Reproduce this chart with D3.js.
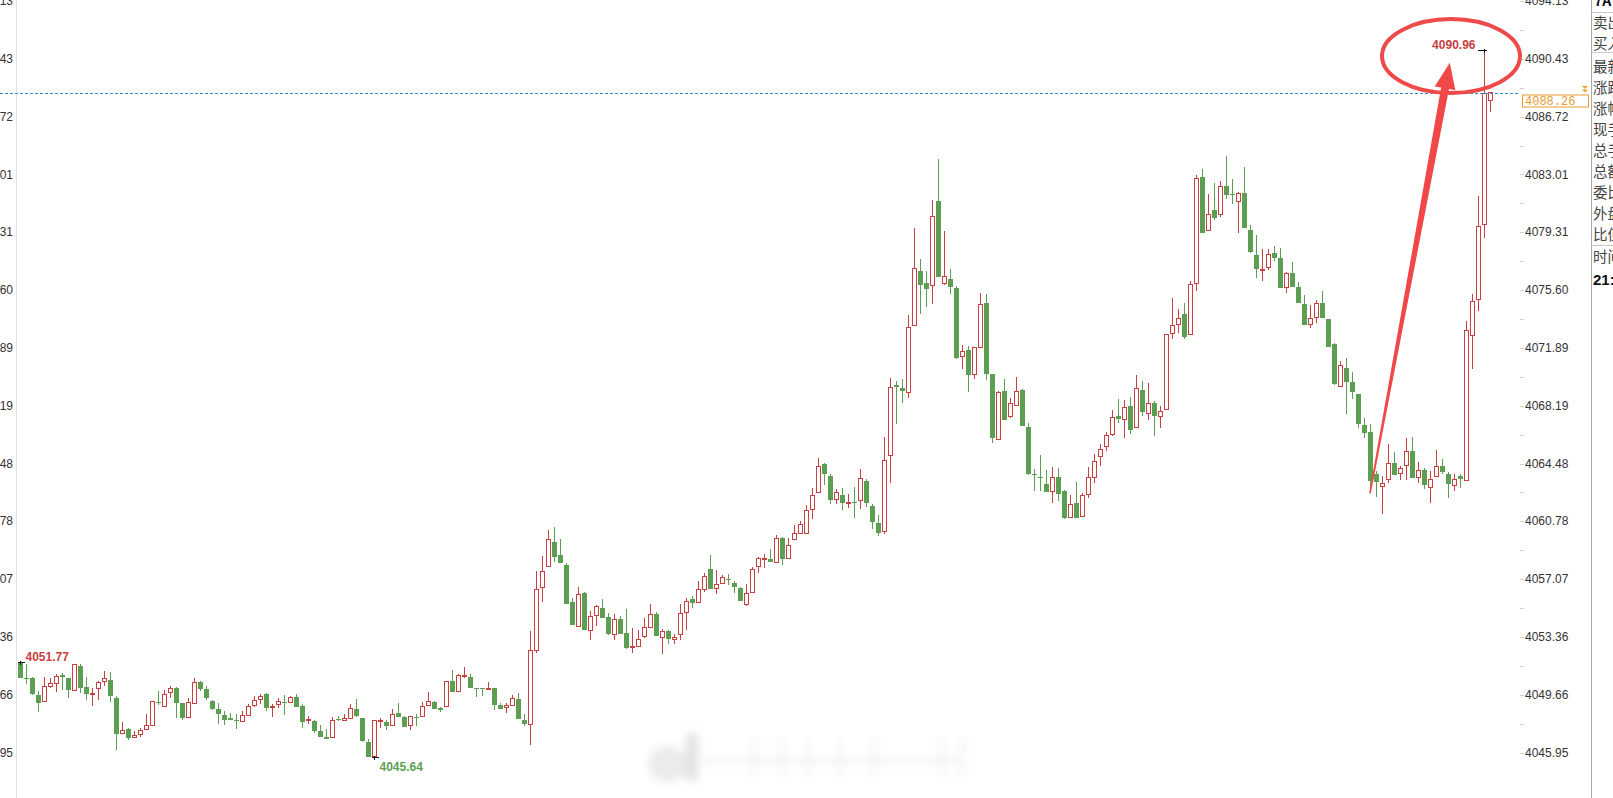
<!DOCTYPE html>
<meta charset="utf-8">
<script src="https://d3js.org/d3.v7.min.js"></script>
<style>
  body { margin: 0; background: #fff; overflow: hidden; }
</style>
<div id="chart"></div>
<script>

// one row per bar: [open, high, low, close]
var candles = [
  [4051.67,4051.77,4050.71,4050.76],[4050.73,4051.61,4050.37,4050.65],[4050.71,4050.80,4049.62,4049.69],[4049.64,4049.90,4048.58,4049.15],
  [4049.22,4050.80,4049.17,4050.20],[4050.20,4050.71,4050.07,4050.35],[4050.37,4051.01,4049.82,4050.80],[4050.93,4051.03,4049.94,4050.78],
  [4050.73,4050.73,4049.47,4049.94],[4049.90,4051.61,4049.90,4051.57],[4051.48,4051.65,4049.75,4050.11],[4050.13,4050.80,4049.34,4049.69],
  [4049.67,4050.07,4048.92,4049.71],[4050.07,4050.54,4049.30,4050.46],[4050.50,4051.18,4050.24,4050.71],[4050.63,4051.10,4049.17,4049.60],
  [4049.47,4049.58,4046.14,4047.12],[4047.19,4047.89,4047.19,4047.38],[4047.44,4047.55,4046.74,4046.87],[4046.93,4047.34,4046.87,4047.06],
  [4047.12,4047.55,4046.95,4047.38],[4047.46,4048.40,4047.46,4047.70],[4047.70,4049.26,4047.70,4049.22],[4049.22,4049.90,4049.00,4049.15],
  [4048.92,4049.94,4048.92,4049.69],[4049.82,4050.24,4049.47,4050.07],[4050.07,4050.16,4048.15,4049.15],[4049.13,4049.13,4048.04,4048.17],
  [4048.19,4049.47,4048.19,4049.13],[4049.11,4050.71,4049.11,4050.46],[4050.50,4050.54,4049.90,4050.01],[4050.03,4050.20,4049.34,4049.43],
  [4049.26,4049.34,4048.71,4048.77],[4048.73,4049.13,4047.81,4048.40],[4048.34,4048.62,4047.72,4048.02],[4048.19,4048.49,4048.02,4048.06],
  [4048.04,4048.40,4047.44,4048.02],[4047.94,4048.62,4047.94,4048.34],[4048.30,4049.05,4048.30,4048.92],[4049.00,4049.58,4048.88,4049.26],
  [4049.37,4049.69,4049.09,4049.56],[4049.69,4049.80,4048.62,4048.84],[4048.86,4049.05,4048.24,4048.92],[4049.01,4049.48,4048.79,4049.20],
  [4049.22,4049.65,4048.36,4049.18],[4049.18,4049.56,4049.18,4049.50],[4049.52,4049.73,4048.90,4048.90],[4048.94,4049.09,4047.51,4047.94],
  [4048.02,4048.32,4047.81,4048.07],[4047.98,4048.02,4047.23,4047.34],[4047.34,4047.72,4046.98,4046.98],[4046.93,4047.49,4046.85,4046.85],
  [4046.91,4048.24,4046.91,4047.98],[4048.09,4048.30,4047.98,4048.02],[4048.02,4048.45,4048.02,4048.13],[4048.15,4049.09,4048.15,4048.79],
  [4048.73,4049.39,4048.24,4048.28],[4048.15,4048.19,4046.66,4046.70],[4046.63,4046.81,4045.67,4045.67],[4045.72,4048.02,4045.64,4047.98],
  [4047.94,4048.15,4047.55,4048.00],[4047.94,4048.02,4047.43,4047.68],[4047.70,4048.73,4047.70,4048.41],[4048.47,4049.11,4048.26,4048.26],
  [4048.24,4048.30,4047.62,4047.62],[4047.68,4048.32,4047.43,4048.28],[4048.24,4048.41,4047.66,4048.19],[4048.26,4049.18,4048.26,4048.92],
  [4048.96,4049.82,4048.96,4049.20],[4049.20,4049.26,4048.77,4048.77],[4048.79,4048.88,4048.58,4048.69],[4048.90,4050.48,4048.90,4050.48],
  [4050.54,4051.25,4049.86,4049.86],[4049.86,4050.97,4049.86,4050.91],[4050.82,4051.44,4050.76,4050.91],[4050.78,4050.97,4050.12,4050.12],
  [4050.12,4050.12,4049.54,4050.05],[4050.12,4050.12,4049.58,4050.05],[4050.05,4050.48,4050.01,4050.09],[4050.09,4050.09,4048.66,4049.03],
  [4049.00,4049.15,4048.77,4048.77],[4048.85,4049.11,4048.51,4048.94],[4048.98,4049.65,4048.98,4049.43],[4049.37,4049.75,4048.09,4048.09],
  [4048.04,4048.41,4047.66,4047.79],[4047.77,4053.75,4046.44,4052.51],[4052.47,4057.59,4052.36,4056.42],[4056.55,4058.56,4055.61,4057.53],
  [4057.87,4060.22,4057.87,4059.62],[4059.45,4060.41,4058.17,4058.51],[4058.62,4059.67,4058.09,4058.09],[4057.98,4058.09,4055.46,4055.50],
  [4055.61,4055.88,4054.11,4054.11],[4054.05,4056.59,4054.05,4056.10],[4056.21,4056.25,4053.79,4053.79],[4053.79,4055.03,4053.15,4054.65],
  [4054.77,4055.39,4054.07,4055.31],[4055.20,4055.82,4054.60,4054.60],[4054.65,4054.88,4053.47,4053.58],[4053.53,4054.82,4053.15,4054.50],
  [4054.50,4054.71,4053.58,4053.58],[4053.59,4055.13,4052.57,4052.63],[4052.71,4053.91,4052.35,4052.78],[4052.78,4053.78,4052.78,4053.21],
  [4053.40,4054.55,4053.31,4053.99],[4053.99,4055.45,4053.99,4054.83],[4054.83,4054.96,4053.40,4053.40],[4053.33,4053.89,4052.24,4053.72],
  [4053.72,4053.78,4052.93,4053.21],[4053.21,4053.57,4052.89,4053.33],[4053.53,4055.45,4053.14,4054.87],[4054.96,4055.88,4053.80,4055.66],
  [4055.77,4055.96,4055.24,4055.51],[4055.58,4056.95,4055.58,4056.41],[4056.41,4057.44,4056.26,4057.24],[4057.71,4058.59,4056.41,4056.41],
  [4056.48,4057.63,4056.09,4056.73],[4056.82,4057.33,4056.77,4057.20],[4057.10,4057.42,4056.69,4057.03],[4056.84,4056.95,4056.20,4056.56],
  [4056.50,4056.56,4055.64,4055.64],[4055.43,4056.73,4055.34,4056.15],[4056.22,4057.84,4056.22,4057.71],[4057.89,4058.48,4057.48,4058.42],
  [4058.33,4058.68,4057.80,4058.40],[4058.36,4059.02,4058.14,4058.19],[4058.14,4059.89,4058.14,4059.68],[4059.68,4059.77,4057.95,4058.33],
  [4058.40,4059.72,4058.40,4059.23],[4059.62,4060.54,4059.62,4060.00],[4059.98,4060.79,4059.94,4060.58],[4059.98,4061.82,4059.94,4061.48],
  [4061.54,4062.89,4060.94,4062.44],[4062.63,4064.81,4062.63,4064.32],[4064.42,4064.53,4063.08,4063.78],[4063.68,4063.78,4061.90,4062.12],
  [4062.18,4062.86,4061.86,4062.65],[4062.44,4062.89,4061.50,4061.92],[4061.97,4062.50,4061.65,4062.01],[4062.01,4062.97,4061.01,4061.92],
  [4062.12,4064.10,4061.54,4063.53],[4063.36,4063.46,4061.69,4061.97],[4061.75,4061.90,4060.30,4060.75],[4060.64,4061.16,4059.83,4060.04],
  [4060.15,4066.18,4059.94,4064.68],[4065.02,4069.94,4063.25,4069.34],[4069.49,4069.77,4066.99,4069.38],[4069.30,4069.87,4068.33,4069.15],
  [4069.06,4074.00,4068.70,4073.19],[4073.36,4079.55,4073.36,4076.99],[4076.82,4077.57,4074.08,4075.90],[4076.05,4076.82,4074.51,4075.69],
  [4075.90,4081.35,4074.72,4080.32],[4081.30,4083.98,4076.45,4076.45],[4076.01,4079.38,4075.90,4076.48],[4076.28,4076.92,4075.32,4075.81],
  [4075.75,4075.86,4071.15,4071.26],[4071.35,4072.05,4070.51,4071.63],[4071.73,4072.01,4069.06,4070.13],[4070.19,4071.90,4069.92,4071.90],
  [4071.95,4075.39,4071.95,4074.68],[4074.75,4075.32,4069.81,4070.24],[4070.20,4070.24,4065.82,4066.14],[4066.03,4069.13,4066.03,4069.06],
  [4069.11,4069.88,4067.25,4067.25],[4067.48,4068.66,4067.42,4068.34],[4068.19,4070.03,4068.14,4069.11],[4069.19,4069.23,4066.86,4066.86],
  [4066.82,4067.10,4063.74,4063.79],[4063.79,4064.11,4062.72,4063.72],[4063.61,4065.00,4062.72,4063.57],[4063.14,4064.04,4062.67,4062.67],
  [4062.67,4064.28,4061.97,4063.57],[4063.64,4064.21,4062.08,4062.50],[4062.72,4062.76,4060.90,4060.97],[4061.01,4062.46,4060.97,4061.86],
  [4061.93,4063.29,4061.01,4061.01],[4061.07,4062.57,4061.07,4062.44],[4062.50,4064.26,4062.29,4063.57],[4063.57,4065.11,4063.21,4064.60],
  [4064.94,4065.71,4064.32,4065.39],[4065.58,4066.50,4065.28,4066.29],[4066.35,4067.89,4066.24,4067.40],[4067.50,4068.59,4067.10,4067.31],
  [4067.29,4068.53,4066.09,4068.08],[4068.14,4068.74,4066.35,4066.65],[4066.78,4070.13,4066.78,4069.30],[4069.17,4069.77,4067.50,4067.76],
  [4067.70,4069.64,4067.29,4068.34],[4068.36,4068.49,4066.26,4067.55],[4067.50,4068.17,4066.78,4067.82],[4067.96,4072.80,4067.96,4072.77],
  [4072.83,4075.07,4072.49,4073.30],[4073.39,4074.37,4072.87,4073.79],[4074.05,4074.80,4072.49,4072.62],[4072.77,4076.19,4072.77,4075.97],
  [4076.04,4082.96,4075.55,4082.77],[4082.85,4083.34,4079.24,4079.28],[4079.43,4081.74,4079.43,4080.46],[4080.72,4082.45,4080.10,4080.20],
  [4080.44,4082.60,4080.31,4082.25],[4082.25,4084.20,4081.46,4081.68],[4081.74,4082.70,4081.10,4081.70],[4081.25,4081.91,4079.24,4081.81],
  [4081.81,4083.49,4079.56,4079.56],[4079.46,4079.78,4078.00,4078.05],[4077.83,4079.11,4076.40,4076.98],[4076.87,4078.22,4076.21,4076.93],
  [4077.04,4078.22,4076.89,4077.90],[4077.96,4078.43,4077.47,4077.68],[4077.64,4078.28,4075.76,4075.76],[4075.76,4076.76,4075.44,4076.68],
  [4076.68,4077.40,4075.82,4075.82],[4075.80,4076.10,4074.75,4074.75],[4074.69,4075.29,4073.39,4073.39],[4073.41,4074.63,4073.19,4073.79],
  [4073.86,4074.95,4073.52,4074.75],[4074.75,4075.52,4073.84,4073.84],[4073.73,4073.77,4071.93,4071.93],[4072.13,4072.19,4069.54,4069.60],
  [4069.45,4071.06,4069.45,4070.78],[4070.63,4071.23,4067.64,4069.73],[4069.71,4070.35,4068.60,4069.09],[4068.96,4068.96,4066.74,4067.04],
  [4066.95,4067.42,4066.14,4066.46],[4066.51,4067.00,4062.57,4063.36],[4063.79,4064.00,4062.34,4063.32],[4063.02,4063.68,4061.27,4063.21],
  [4063.47,4065.72,4063.26,4064.48],[4064.54,4065.22,4063.73,4063.73],[4063.86,4064.33,4063.41,4064.16],[4064.37,4066.14,4063.41,4065.27],
  [4065.29,4066.19,4063.58,4063.58],[4063.58,4064.60,4063.26,4064.01],[4064.05,4064.22,4062.83,4063.09],[4062.94,4064.01,4061.98,4063.47],
  [4063.62,4065.33,4063.62,4064.26],[4064.30,4064.80,4063.79,4063.94],[4063.79,4063.96,4062.25,4063.15],[4063.09,4063.83,4062.72,4063.47],
  [4063.68,4063.79,4062.94,4063.51],[4063.41,4073.62,4063.41,4073.02],[4072.66,4075.33,4070.52,4074.86],[4075.01,4081.63,4074.26,4079.65],
  [4079.82,4090.96,4078.92,4088.20],[4087.77,4088.30,4087.02,4088.26]
];

// price scale labels (same on both sides)
var yTicks = [4094.13, 4090.43, 4086.72, 4083.01, 4079.31, 4075.60, 4071.89,
              4068.19, 4064.48, 4060.78, 4057.07, 4053.36, 4049.66, 4045.95];

var lastPrice = 4088.26;

// extreme value marks: bar index, value, which side
var extremes = [
  {i: 0,   v: 4051.77, kind: "high", side: "right"},
  {i: 59,  v: 4045.64, kind: "low",  side: "right"},
  {i: 244, v: 4090.96, kind: "high", side: "left"}
];

// hand-drawn annotation, in data terms (bar index, price)
var arrowFrom = {i: 225, v: 4062.57};
var arrowTo   = {i: 238.3, v: 4090.17};
var circleAt  = {i: 238.5, v: 4090.60};

// quote panel on the right (cut off by the window)
var panelTitle = "7A";
var panelRows = ["卖出", "买入", "最新", "涨跌", "涨幅", "现手", "总手", "总额", "委比", "外盘", "比值", "时间"];
var panelTime = "21:";

var W = 1613, H = 798;
var red = "#c8403f", green = "#5c9f52";

var svg = d3.select("#chart").append("svg")
  .attr("width", W)
  .attr("height", H)
  .style("font-family", "'Liberation Sans', Arial, sans-serif");

var x = d3.scaleLinear().domain([0, candles.length - 1]).range([20, 1490]);
var y = d3.scaleLinear().domain([4045.95, 4094.13]).range([752.6, 1]);

// blurred watermark at the bottom
var defs = svg.append("defs");
defs.append("filter").attr("id", "blur")
  .attr("x", "-50%").attr("y", "-50%").attr("width", "200%").attr("height", "200%")
  .append("feGaussianBlur").attr("stdDeviation", 4);
var wm = svg.append("g").attr("filter", "url(#blur)");
wm.append("ellipse").attr("cx", 668).attr("cy", 764).attr("rx", 20).attr("ry", 18).attr("fill", "#ebebeb");
wm.append("rect").attr("x", 686).attr("y", 733).attr("width", 12).attr("height", 48).attr("fill", "#e2e2e2");
wm.append("rect").attr("x", 700).attr("y", 757).attr("width", 260).attr("height", 7).attr("fill", "#f5f5f5");
[752, 780, 806, 838, 872, 940, 960].forEach(function(px) {
  wm.append("rect").attr("x", px).attr("y", 738).attr("width", 4).attr("height", 42).attr("fill", "#f3f3f3");
});

// left axis (labels mostly outside the window)
svg.append("line")
  .attr("x1", 16.5).attr("x2", 16.5).attr("y1", 0).attr("y2", H)
  .attr("stroke", "#e3e3e3");
svg.selectAll(".ltick")
  .data(yTicks)
  .enter()
  .append("text")
  .attr("x", 13)
  .attr("y", function(d) { return y(d); })
  .attr("dy", "0.35em")
  .attr("text-anchor", "end")
  .attr("font-size", 12)
  .attr("fill", "#333")
  .text(function(d) { return d.toFixed(2); });

// right axis
var minor = yTicks.slice(1).map(function(d, k) { return (d + yTicks[k]) / 2; });
svg.selectAll(".rmaj")
  .data(yTicks.concat(minor))
  .enter()
  .append("line")
  .attr("x1", 1520).attr("x2", 1524)
  .attr("y1", function(d) { return Math.round(y(d)) + 0.5; })
  .attr("y2", function(d) { return Math.round(y(d)) + 0.5; })
  .attr("stroke", "#d0d0d0");
svg.selectAll(".rtick")
  .data(yTicks)
  .enter()
  .append("text")
  .attr("x", 1525)
  .attr("y", function(d) { return y(d); })
  .attr("dy", "0.35em")
  .attr("font-size", 12)
  .attr("fill", "#333")
  .text(function(d) { return d.toFixed(2); });

// candles
var bars = svg.append("g").attr("shape-rendering", "crispEdges");
var g = bars.selectAll("g")
  .data(candles)
  .enter()
  .append("g");

g.append("line")
  .attr("x1", function(d, i) { return x(i) + 0.5; })
  .attr("x2", function(d, i) { return x(i) + 0.5; })
  .attr("y1", function(d) { return y(d[1]); })
  .attr("y2", function(d) { return y(d[2]); })
  .attr("stroke", function(d) { return d[3] >= d[0] ? red : green; });

g.append("rect")
  .attr("x", function(d, i) { return x(i) - 2; })
  .attr("y", function(d) { return y(Math.max(d[0], d[3])); })
  .attr("width", function(d) { return d[3] >= d[0] ? 4 : 5; })
  .attr("height", function(d) { return Math.max(1, Math.abs(y(d[0]) - y(d[3]))); })
  .attr("fill", function(d) { return d[3] >= d[0] ? "#fff" : green; })
  .attr("stroke", function(d) { return d[3] >= d[0] ? red : "none"; });

// last price line and its tag
var yp = Math.round(y(lastPrice)) + 0.5;
svg.append("line")
  .attr("x1", 0).attr("x2", 1520).attr("y1", yp).attr("y2", yp)
  .attr("stroke", "#3d86d0")
  .attr("stroke-dasharray", "3,2");
svg.append("rect")
  .attr("x", 1522.5).attr("y", yp + 1.5).attr("width", 66).attr("height", 12)
  .attr("fill", "#fff").attr("stroke", "#e89a2e");
svg.append("text")
  .attr("x", 1525).attr("y", yp + 11.5)
  .attr("font-family", "'Liberation Mono', 'DejaVu Sans Mono', monospace")
  .attr("font-size", 12)
  .attr("fill", "#e89a2e")
  .text(lastPrice.toFixed(2));
[-4.5, -1].forEach(function(dy) {
  svg.append("path")
    .attr("d", "M1582," + (yp + dy - 3) + "L1588," + (yp + dy - 3) + "L1585," + (yp + dy) + "Z")
    .attr("fill", "#f0a030");
});

// extreme marks
extremes.forEach(function(m) {
  var cx = x(m.i) + 0.5, cy = Math.round(y(m.v)) + 0.5;
  var mk = svg.append("g").attr("stroke", "#111").attr("shape-rendering", "crispEdges");
  if (m.side === "left") {
    mk.append("line").attr("x1", cx - 7).attr("x2", cx + 2).attr("y1", cy).attr("y2", cy);
    mk.append("line").attr("x1", cx).attr("x2", cx).attr("y1", cy - 2).attr("y2", cy + 2);
  } else {
    mk.append("line").attr("x1", cx - 3).attr("x2", cx + 4).attr("y1", cy).attr("y2", cy);
    mk.append("line").attr("x1", cx).attr("x2", cx).attr("y1", cy - 2).attr("y2", cy + 2);
  }
  svg.append("text")
    .attr("x", m.side === "left" ? cx - 9 : cx + 5)
    .attr("y", m.kind === "high" ? cy - 2 : cy + 13)
    .attr("text-anchor", m.side === "left" ? "end" : "start")
    .attr("font-size", 12)
    .attr("font-weight", "bold")
    .attr("fill", m.kind === "high" ? red : green)
    .text(m.v.toFixed(2));
});

// red circle and arrow
svg.append("ellipse")
  .attr("cx", x(circleAt.i)).attr("cy", y(circleAt.v))
  .attr("rx", 69).attr("ry", 37)
  .attr("fill", "none")
  .attr("stroke", "#ee4a4a")
  .attr("stroke-width", 4);

var tx = x(arrowFrom.i), ty = y(arrowFrom.v);
var px = x(arrowTo.i), py = y(arrowTo.v);
var len = Math.hypot(px - tx, py - ty);
var ux = (px - tx) / len, uy = (py - ty) / len;
var nx = -uy, ny = ux;
var bx = px - ux * 26, by = py - uy * 26;
var pts = [
  [tx + nx * 0.8, ty + ny * 0.8],
  [bx + nx * 4, by + ny * 4],
  [bx + nx * 10.5, by + ny * 10.5],
  [px, py],
  [bx - nx * 10.5, by - ny * 10.5],
  [bx - nx * 4, by - ny * 4],
  [tx - nx * 0.8, ty - ny * 0.8]
];
svg.append("polygon")
  .attr("points", pts.map(function(p) { return p.join(","); }).join(" "))
  .attr("fill", "#f04848");

// quote panel
var panel = svg.append("g")
  .style("font-family", "'Noto Sans CJK SC', sans-serif");
panel.append("line").attr("x1", 1591.5).attr("x2", 1591.5).attr("y1", 0).attr("y2", H).attr("stroke", "#a8a8a8");
[12.5, 52.5, 245.5].forEach(function(sy) {
  panel.append("line").attr("x1", 1591).attr("x2", W).attr("y1", sy).attr("y2", sy).attr("stroke", "#c8c8c8");
});
panel.append("text")
  .attr("x", 1594).attr("y", 1)
  .attr("dy", "0.35em")
  .attr("font-size", 14).attr("font-weight", "bold").attr("fill", "#111")
  .text(panelTitle);
var rowY = [23, 44, 67, 88, 109, 130, 151, 172, 193, 214, 235, 257];
panel.selectAll(".row")
  .data(panelRows)
  .enter()
  .append("text")
  .attr("x", 1593)
  .attr("y", function(d, k) { return rowY[k]; })
  .attr("dy", "0.35em")
  .attr("font-size", 14.5)
  .attr("fill", "#444")
  .text(function(d) { return d; });
panel.append("text")
  .attr("x", 1593).attr("y", 280)
  .attr("dy", "0.35em")
  .attr("font-size", 15).attr("font-weight", "bold").attr("fill", "#111")
  .style("font-family", "'Liberation Sans', Arial, sans-serif")
  .text(panelTime);

</script>
